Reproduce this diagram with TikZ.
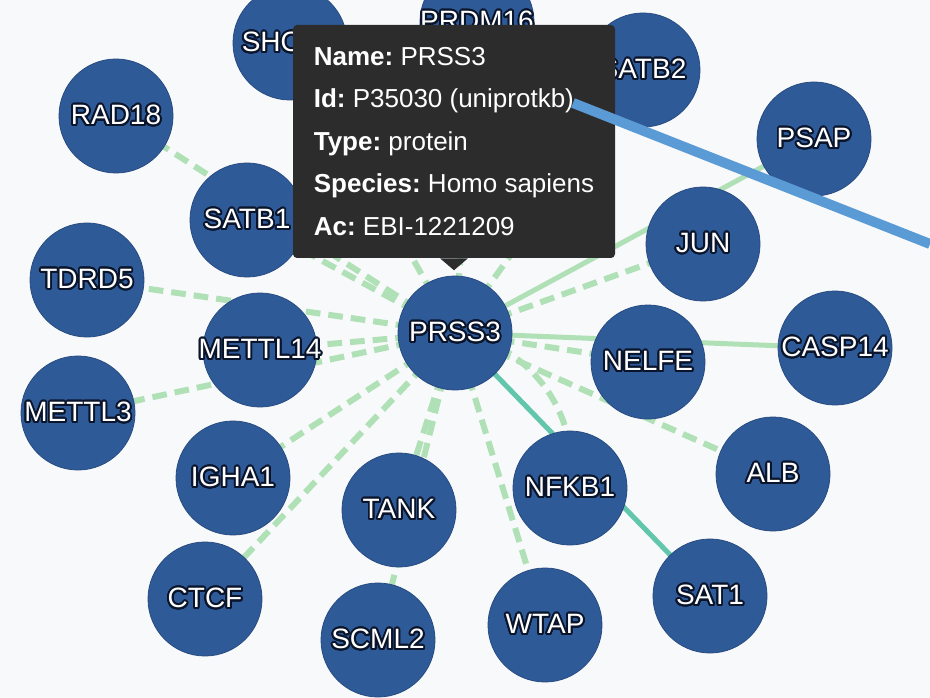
\documentclass[tikz,border=0pt]{standalone}
\usepackage{fontspec}
\setmainfont{Liberation Sans}
\usepackage{contour}
\contourlength{1.4pt}
\contournumber{24}
\usetikzlibrary{backgrounds}
\definecolor{protblue}{RGB}{47,90,152}
\definecolor{lbldark}{RGB}{10,20,42}
\definecolor{edgegreen}{RGB}{176,224,182}
\definecolor{edgeteal}{RGB}{98,198,172}
\definecolor{tipgray}{RGB}{44,44,44}
\definecolor{calloutblue}{RGB}{91,155,213}
\definecolor{pagegray}{RGB}{248,249,250}
\newcommand{\lbl}[1]{\makebox[0pt]{\contour{lbldark}{#1}}}
\tikzset{
  prot/.style={circle,fill=protblue,draw=protblue!85!black,line width=0.6pt,minimum size=85.5pt,inner sep=0pt,text=white,font=\fontsize{21}{24}\selectfont},
  dashedge/.style={draw=edgegreen,line width=4.5pt,dash pattern=on 11pt off 6pt},
  solidedge/.style={draw=edgegreen,line width=3.75pt},
  tealedge/.style={draw=edgeteal,line width=3.75pt},
  tooltip/.style={fill=tipgray,rounded corners=3pt,minimum width=241.5pt,minimum height=174.75pt,text=white,align=left,font=\frenchspacing\fontsize{19.5}{31.9}\selectfont},
  callout/.style={draw=calloutblue,line width=7.5pt}
}
\begin{document}
\begin{tikzpicture}[x=0.75pt,y=-0.75pt]
\useasboundingbox (0,0) rectangle (930,698);
\node[prot] (prss3) at (455,333) {\lbl{PRSS3}};
\node[prot] (shoc2) at (290,43) {\lbl{SHOC2}};
\node[prot] (prdm16) at (477,22) {\lbl{PRDM16}};
\node[prot] (satb2) at (643,70) {\lbl{SATB2}};
\node[prot] (rad18) at (116,116) {\lbl{RAD18}};
\node[prot] (psap) at (814,139) {\lbl{PSAP}};
\node[prot] (satb1) at (247,220) {\lbl{SATB1}};
\node[prot] (jun) at (703,244) {\lbl{JUN}};
\node[prot] (tdrd5) at (87,280) {\lbl{TDRD5}};
\node[prot] (mettl14) at (260,350) {\lbl{METTL14}};
\node[prot] (nelfe) at (648,362) {\lbl{NELFE}};
\node[prot] (casp14) at (835,348) {\lbl{CASP14}};
\node[prot] (mettl3) at (78,413) {\lbl{METTL3}};
\node[prot] (igha1) at (233,478) {\lbl{IGHA1}};
\node[prot] (tank) at (399,510) {\lbl{TANK}};
\node[prot] (nfkb1) at (570,488) {\lbl{NFKB1}};
\node[prot] (alb) at (773,474) {\lbl{ALB}};
\node[prot] (ctcf) at (205,599) {\lbl{CTCF}};
\node[prot] (scml2) at (378,640) {\lbl{SCML2}};
\node[prot] (wtap) at (545,625) {\lbl{WTAP}};
\node[prot] (sat1) at (710,596) {\lbl{SAT1}};
\begin{scope}[on background layer]
\fill[pagegray] (0,0) rectangle (930,698);
\draw[dashedge] (prss3.center) -- (rad18.center);
\draw[dashedge] (prss3.center) -- (satb1.center);
\draw[dashedge] (prss3.center) -- (shoc2.center);
\draw[dashedge] (prss3.center) -- (prdm16.center);
\draw[dashedge] (prss3.center) -- (satb2.center);
\draw[dashedge] (prss3.center) -- (tdrd5.center);
\draw[dashedge] (prss3.center) -- (mettl14.center);
\draw[dashedge] (prss3.center) -- (mettl3.center);
\draw[dashedge] (prss3.center) -- (igha1.center);
\draw[dashedge] (prss3.center) -- (ctcf.center);
\draw[dashedge] (prss3.center) -- (tank.center);
\draw[dashedge] (prss3.center) -- (scml2.center);
\draw[dashedge] (prss3.center) -- (wtap.center);
\draw[dashedge] (prss3.center) to[bend left=45] (nfkb1.center);
\draw[dashedge] (prss3.center) -- (alb.center);
\draw[dashedge] (prss3.center) -- (nelfe.center);
\draw[dashedge] (prss3.center) -- (jun.center);
\draw[solidedge] (prss3.center) -- (psap.center);
\draw[solidedge] (prss3.center) -- (casp14.center);
\draw[tealedge] (prss3.center) -- (sat1.center);
\end{scope}
\node[tooltip] (tip) at (454,141.5) {\textbf{Name:} PRSS3\\\textbf{Id:} P35030 (uniprotkb)\\\textbf{Type:} protein\\\textbf{Species:} Homo sapiens\\\textbf{Ac:} EBI-1221209};
\fill[tipgray] ([xshift=-10.5pt]tip.south) -- ([yshift=-9pt]tip.south) -- ([xshift=10.5pt]tip.south) -- cycle;
\coordinate (uniprot) at (573,103);
\coordinate (offpage) at (930,244);
\draw[callout] (uniprot) -- (offpage);
\end{tikzpicture}
\end{document}
